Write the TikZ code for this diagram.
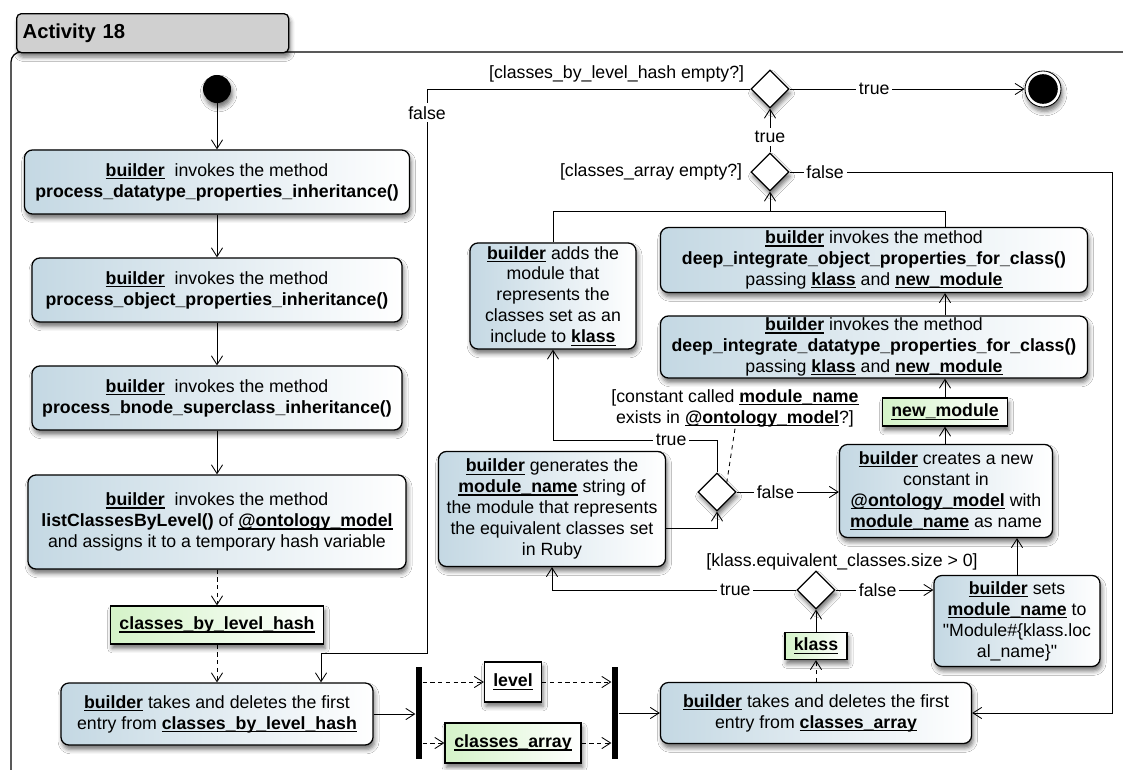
\documentclass[tikz,border=0pt]{standalone}
\usepackage{fontspec}
\setmainfont{Liberation Sans}
\usetikzlibrary{
  positioning,
  shapes.geometric,
  shadows.blur,
  arrows.meta
}

% variable names: bold, with a rule just under the baseline
\newcommand{\var}[1]{{\bfseries\setbox0=\hbox{#1}\rlap{\rule[-2.1pt]{\wd0}{0.8pt}}\box0}}

\definecolor{actblue}{RGB}{196,216,227}
\definecolor{objgreen}{RGB}{212,243,200}
\definecolor{tabgrey}{RGB}{208,208,208}

\begin{document}
\begin{tikzpicture}[
  x=0.025cm, y=-0.025cm,
  font=\fontsize{12.6}{14.9}\selectfont,
  line width=0.6pt,
  castshadow/.style={
     blur shadow={shadow xshift=0.4mm, shadow yshift=-1.1mm,
                  shadow blur radius=1.1mm, shadow opacity=55}
  },
  action/.style={
     rectangle,
     rounded corners=2mm,
     draw,
     line width=0.9pt,
     left color=actblue,
     right color=white,
     align=center,
     inner sep=1pt,
     castshadow
  },
  object/.style={
     rectangle,
     draw,
     line width=0.9pt,
     left color=objgreen,
     right color=white,
     inner sep=2pt,
     castshadow
  },
  decision/.style={
     diamond,
     draw,
     fill=white,
     line width=0.9pt,
     minimum width=0.95cm,
     minimum height=0.95cm,
     inner sep=0pt,
     castshadow
  },
  initial/.style={circle, fill=black, minimum size=0.7cm, inner sep=0pt, castshadow},
  final/.style={circle, draw, fill=white, minimum size=0.9cm, inner sep=0pt, castshadow},
  bar/.style={rectangle, fill=black, minimum width=0.16cm, minimum height=2.3cm, inner sep=0pt},
  flow/.style={-{Straight Barb[length=2.2mm,width=2.8mm]}},
  objflow/.style={flow, dash pattern=on 3pt off 2.5pt},
  guard/.style={inner sep=1pt, align=center},
  lbl/.style={fill=white, inner sep=2pt}
]
   \useasboundingbox (0,0) rectangle (1123,769);

   % The frame and its tab
   \draw[line width=0.9pt, rounded corners=2.5mm, fill=white] (11,52) rectangle (1150,800);
   \node[rectangle, rounded corners=1.2mm, draw, line width=0.9pt, fill=tabgrey, castshadow,
         anchor=north west, minimum width=6.8cm, minimum height=0.975cm,
         text width=6.5cm, align=left, font=\fontsize{14.4}{16}\selectfont\bfseries]
         (tab) at (16,13) {Activity 18};

   % Left column
   \node[initial] (start) at (217,89) {};
   \node[action, minimum width=9.625cm, minimum height=1.6cm] (inh1) at (217,182)
      {\var{builder}\ \ invokes the method\\ \textbf{process\_datatype\_properties\_inheritance()}};
   \node[action, minimum width=9.25cm, minimum height=1.6cm] (inh2) at (217,290)
      {\var{builder}\ \ invokes the method\\ \textbf{process\_object\_properties\_inheritance()}};
   \node[action, minimum width=9.25cm, minimum height=1.6cm] (inh3) at (217,398)
      {\var{builder}\ \ invokes the method\\ \textbf{process\_bnode\_superclass\_inheritance()}};
   \node[action, minimum width=9.45cm, minimum height=2.35cm] (list) at (217,522)
      {\var{builder}\ \ invokes the method\\ \textbf{listClassesByLevel()} of \var{@ontology\_model}\\
       and assigns it to a temporary hash variable};
   \node[object, minimum width=5.325cm, minimum height=0.95cm] (hash) at (217,625)
      {\var{classes\_by\_level\_hash}};
   \node[action, minimum width=7.8cm, minimum height=1.55cm] (takelevel) at (217,714)
      {\var{builder} takes and deletes the first\\ entry from \var{classes\_by\_level\_hash}};

   % Fork and join bars
   \node[bar] (fork) at (419,713) {};
   \node[bar] (join) at (615,713) {};
   \node[object, left color=white, minimum width=1.425cm, minimum height=1cm] (level) at (513,682)
      {\var{level}};
   \node[object, minimum width=3.4cm, minimum height=1cm] (array) at (513,743)
      {\var{classes\_array}};

   % Inner loop over the classes of a level
   \node[action, minimum width=7.775cm, minimum height=1.525cm] (takeclass) at (816,713)
      {\var{builder} takes and deletes the first\\ entry from \var{classes\_array}};
   \node[object, minimum width=1.55cm, minimum height=0.675cm] (klass) at (816,646)
      {\var{klass}};
   \node[decision] (equiv) at (816,590) {};
   \node[guard] (equivg) at (842,562) {[klass.equivalent\_classes.size > 0]};
   \node[action, minimum width=4.15cm, minimum height=2.275cm] (sets) at (1017,621)
      {\var{builder} sets\\ \var{module\_name} to\\ \textquotedbl Module\#\{klass.loc\\ al\_name\}\textquotedbl};
   \node[action, minimum width=5.675cm, minimum height=2.875cm] (gen) at (552,509)
      {\var{builder} generates the\\ \var{module\_name} string of\\ the module that represents\\
       the equivalent classes set\\ in Ruby};
   \node[decision] (exists) at (717,492) {};
   \node[guard] (existsg) at (735,408)
      {[constant called \var{module\_name}\\ exists in \var{@ontology\_model}?]};
   \node[action, minimum width=5.325cm, minimum height=2.325cm] (create) at (946,491)
      {\var{builder} creates a new\\ constant in\\ \var{@ontology\_model} with\\ \var{module\_name} as name};
   \node[object, minimum width=3.125cm, minimum height=0.7cm] (newmod) at (945,412)
      {\var{new\_module}};
   \node[action, minimum width=10.675cm, minimum height=1.55cm] (dtype) at (874,347)
      {\var{builder} invokes the method\\ \textbf{deep\_integrate\_datatype\_properties\_for\_class()}\\
       passing \var{klass} and \var{new\_module}};
   \node[action, minimum width=10.675cm, minimum height=1.625cm] (otype) at (874,260)
      {\var{builder} invokes the method\\ \textbf{deep\_integrate\_object\_properties\_for\_class()}\\
       passing \var{klass} and \var{new\_module}};
   \node[action, minimum width=4.15cm, minimum height=2.65cm] (adds) at (553,296)
      {\var{builder} adds the\\ module that\\ represents the\\ classes set as an\\ include to \var{klass}};

   % Exit tests
   \node[decision] (arrayempty) at (770,172) {};
   \node[guard, anchor=east] (arrayemptyg) at (744,172) {[classes\_array empty?]};
   \node[decision] (hashempty) at (770,89) {};
   \node[guard, anchor=east] (hashemptyg) at (746,74) {[classes\_by\_level\_hash empty?]};
   \node[final] (stop) at (1043,89) {};
   \fill (stop.center) circle (0.37cm);

   \coordinate (merge) at (770,211);
   \coordinate (backturn) at (427,653);
   \coordinate (trueturn) at (553,440);
   \coordinate (falseturn) at (1112,172);

   % The control flows
   \draw[flow] (start) -- (inh1);
   \draw[flow] (inh1) -- (inh2);
   \draw[flow] (inh2) -- (inh3);
   \draw[flow] (inh3) -- (list);
   \draw[objflow] (list) -- (hash);
   \draw[objflow] (hash) -- (takelevel);
   \draw[flow] (takelevel.east) -- (takelevel.east -| fork.west);
   \draw[objflow] (fork.east |- level) -- (level);
   \draw[objflow] (level) -- (level -| join.west);
   \draw[objflow] (fork.east |- array) -- (array);
   \draw[objflow] (array) -- (array -| join.west);
   \draw[flow] (join.east |- takeclass) -- (takeclass);
   \draw[objflow] (takeclass) -- (klass);
   \draw[flow] (klass) -- (equiv);
   \draw[flow] (equiv.west) -| node[lbl, pos=0.125] (equivt) {true} (gen.south);
   \draw[flow] (equiv.east) -- node[lbl, pos=0.43] (equivf) {false} (equiv.east -| sets.west);
   \draw[flow] (sets) -- (sets |- create.south);
   \draw[flow] ([yshift=-4.75mm]gen.east) -| (exists.south);
   \draw[dashed] (existsg.south) -- (exists.north east);
   \draw[flow] (exists.north) |- node[lbl, pos=0.64] (existst) {true} (trueturn) -- (adds.south);
   \draw[flow] (exists.east) -- node[lbl, pos=0.38] (existsf) {false} (exists.east -| create.west);
   \draw[flow] (newmod |- create.north) -- (newmod);
   \draw[flow] (newmod) -- (newmod |- dtype.south);
   \draw[flow] (newmod |- dtype.north) -- (newmod |- otype.south);
   \draw (adds.north) |- (merge);
   \draw (newmod |- otype.north) |- (merge);
   \draw[flow] (merge) -- (arrayempty);
   \draw[flow] (arrayempty) -- node[lbl, pos=0.35] (arrayemptyt) {true} (hashempty);
   \draw[flow] (arrayempty.east) -- node[lbl, pos=0.11] (arrayemptyf) {false} (falseturn)
      |- (takeclass.east);
   \draw[flow] (hashempty) -- node[lbl, pos=0.36] (hashemptyt) {true} (stop);
   \draw[flow] (hashempty.west) -| node[lbl, pos=0.521] (hashemptyf) {false} (backturn)
      -| ([xshift=2.6cm]takelevel.north);
\end{tikzpicture}
\end{document}
